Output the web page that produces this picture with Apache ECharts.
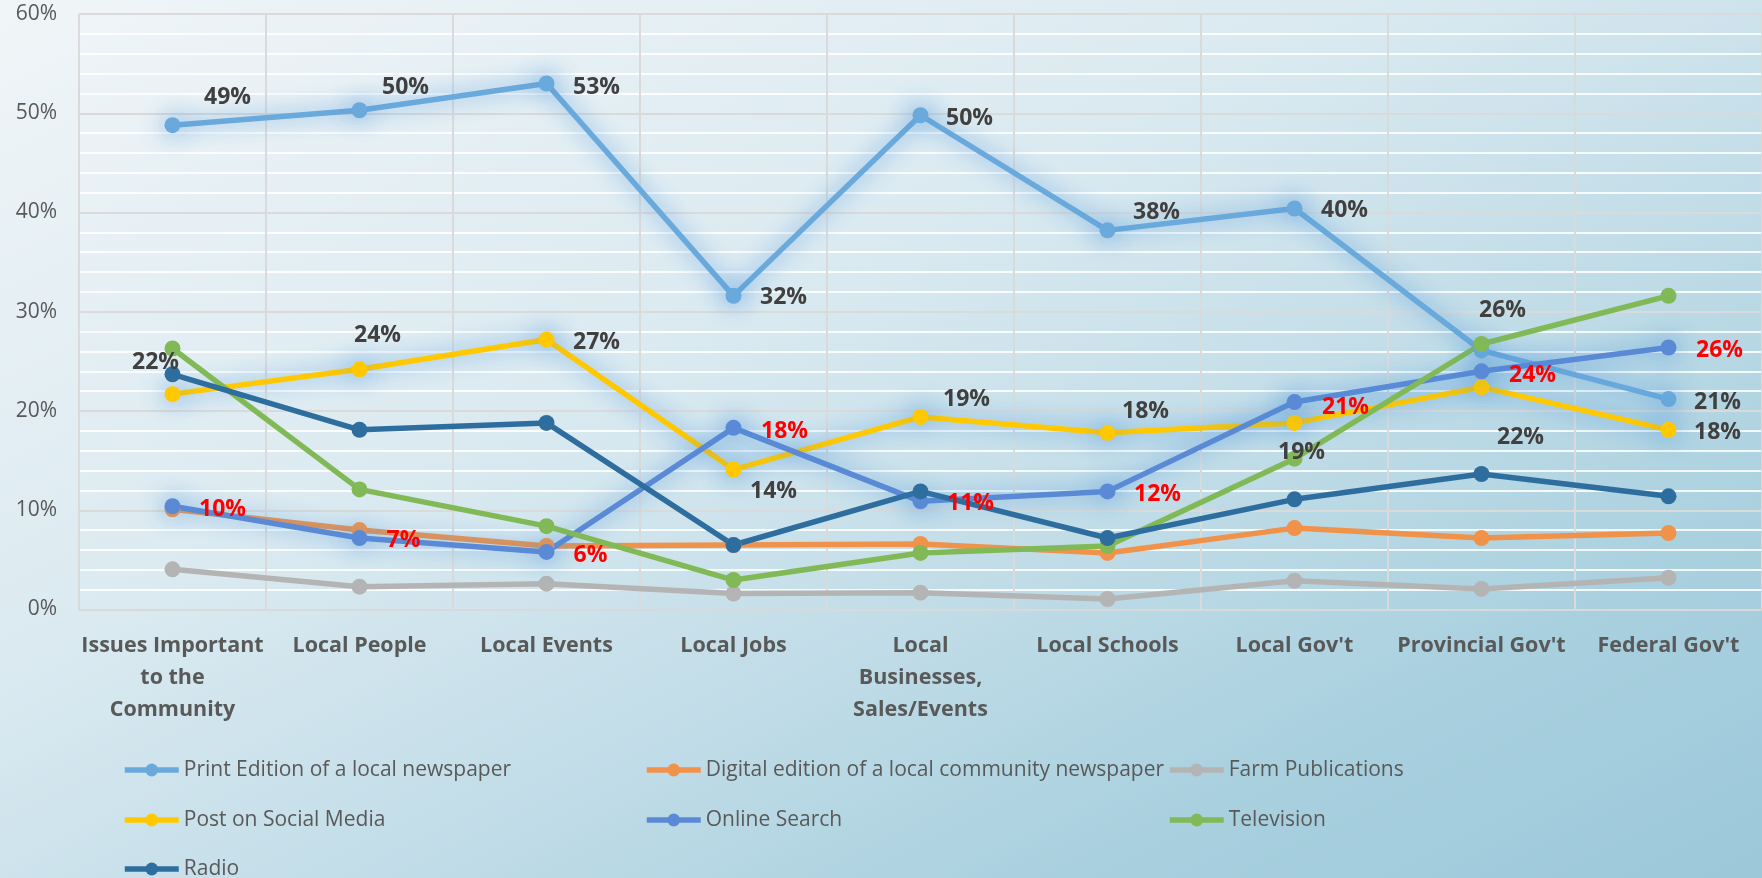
<!DOCTYPE html>
<html>
<head>
<meta charset="utf-8">
<title>Where people look for local information</title>
<script src="https://cdn.jsdelivr.net/npm/echarts@6/dist/echarts.min.js"></script>
<style>
  html, body { margin: 0; padding: 0; }
  #chart {
    width: 1762px; height: 878px;
    background: linear-gradient(to bottom right, #f0f5f7 0%, #dbeaf1 38%, #c2dde8 60%, #a9d0df 80%, #9cc8da 100%);
  }
</style>
</head>
<body>
<div id="chart"></div>
<script>
// Topics asked about
const categories = [
  'Issues Important\nto the\nCommunity',
  'Local People',
  'Local Events',
  'Local Jobs',
  'Local\nBusinesses,\nSales/Events',
  'Local Schools',
  "Local Gov't",
  "Provincial Gov't",
  "Federal Gov't"
];

// Share of respondents (%) using each source, per topic
const printEdition   = [48.8, 50.3, 53.0, 31.6, 49.8, 38.2, 40.4, 26.1, 21.2];
const digitalEdition = [10.1, 8.0, 6.4, 6.5, 6.6, 5.7, 8.2, 7.2, 7.7];
const farmPubs       = [4.05, 2.3, 2.6, 1.6, 1.7, 1.06, 2.9, 2.07, 3.2];
const socialMedia    = [21.7, 24.2, 27.2, 14.1, 19.4, 17.8, 18.8, 22.4, 18.1];
const onlineSearch   = [10.4, 7.2, 5.8, 18.3, 10.9, 11.9, 20.9, 24.0, 26.4];
const television     = [26.3, 12.1, 8.4, 2.97, 5.7, 6.4, 15.2, 26.75, 31.6];
const radio          = [23.7, 18.1, 18.8, 6.5, 11.9, 7.2, 11.1, 13.65, 11.4];

// Y axis ticks (%)
const yTicks = { min: 0, max: 60, step: 10 };

// Label placement (pixel offset from the point) for the labelled series
const printLabelOffsets  = [[55,-28],[46,-23],[50,4],[50,2],[49,3],[49,-18],[50,2],[21,-40],[49,3]];
const socialLabelOffsets = [[-17,-32],[18,-34],[50,3],[40,22],[46,-18],[38,-21],[7,30],[39,50],[49,3]];
const onlineLabelOffsets = [[50,3],[44,2],[44,4],[51,4],[50,2],[50,3],[51,5],[51,4],[51,3]];

const FONT = '"Open Sans", "Noto Sans", sans-serif';
const AXIS_GREY = '#595959';
const GLOW = 'rgba(78,150,218,0.9)';

function pct(v) { return Math.round(v) + '%'; }

function labelled(values, offsets, color) {
  return values.map((v, i) => ({
    value: v,
    label: {
      show: true,
      position: 'inside',
      offset: offsets[i],
      formatter: p => pct(p.value),
      color: color,
      fontFamily: FONT,
      fontWeight: 'bold',
      fontSize: 23
    }
  }));
}

function lineSeries(name, data, color, glow) {
  const s = {
    name: name,
    type: 'line',
    data: data,
    symbol: 'circle',
    symbolSize: 16,
    lineStyle: { width: 5.5, color: color },
    itemStyle: { color: color },
    emphasis: { disabled: true },
    animation: false
  };
  if (glow) {
    s.lineStyle.shadowBlur = 22;
    s.lineStyle.shadowColor = GLOW;
    s.itemStyle.shadowBlur = 26;
    s.itemStyle.shadowColor = GLOW;
  }
  return s;
}

// One legend entry per cell of a 3-column grid
const legendColumns = [122, 644, 1167];
const legendRows = [759, 809, 858];
const legendCells = [
  ['Print Edition of a local newspaper', 0, 0],
  ['Digital edition of a local community newspaper', 1, 0],
  ['Farm Publications', 2, 0],
  ['Post on Social Media', 0, 1],
  ['Online Search', 1, 1],
  ['Television', 2, 1],
  ['Radio', 0, 2]
];

function legendCell(cell) {
  return {
    data: [cell[0]],
    left: legendColumns[cell[1]],
    top: legendRows[cell[2]],
    padding: 0,
    itemWidth: 54,
    itemHeight: 16,
    selectedMode: false,
    lineStyle: { width: 5.5 },
    itemStyle: { shadowBlur: 0 },
    textStyle: { color: AXIS_GREY, fontFamily: FONT, fontSize: 21, lineHeight: 22 }
  };
}

const chart = echarts.init(document.getElementById('chart'), null, { renderer: 'canvas' });

chart.setOption({
  backgroundColor: 'transparent',
  animation: false,
  grid: { left: 79, top: 14, width: 1686, height: 595.5, containLabel: false },
  xAxis: {
    type: 'category',
    data: categories,
    boundaryGap: true,
    axisLine: { show: true, lineStyle: { color: '#d9d9d9', width: 2 } },
    axisTick: { show: false },
    splitLine: { show: true, interval: 0, lineStyle: { color: '#dadada', width: 2 } },
    axisLabel: {
      interval: 0,
      margin: 20,
      color: AXIS_GREY,
      fontFamily: FONT,
      fontWeight: 'bold',
      fontSize: 21.5,
      lineHeight: 32
    }
  },
  yAxis: {
    type: 'value',
    min: yTicks.min,
    max: yTicks.max,
    interval: yTicks.step,
    axisLine: { show: false },
    axisTick: { show: false },
    axisLabel: {
      margin: 22,
      color: AXIS_GREY,
      fontFamily: FONT,
      fontSize: 21,
      formatter: v => v + '%'
    },
    minorTick: { show: false, splitNumber: 5 },
    minorSplitLine: { show: true, lineStyle: { color: '#ffffff', width: 2, opacity: 0.85 } },
    splitLine: { show: true, lineStyle: { color: '#dadada', width: 2 } }
  },
  legend: legendCells.map(legendCell),
  series: [
    lineSeries('Print Edition of a local newspaper', labelled(printEdition, printLabelOffsets, '#404040'), '#69a9dc', true),
    lineSeries('Digital edition of a local community newspaper', digitalEdition, '#f0924a', false),
    lineSeries('Farm Publications', farmPubs, '#b4b4b4', false),
    lineSeries('Post on Social Media', labelled(socialMedia, socialLabelOffsets, '#404040'), '#ffc800', true),
    lineSeries('Online Search', labelled(onlineSearch, onlineLabelOffsets, '#ff0000'), '#5a8ad5', true),
    lineSeries('Television', television, '#82b957', false),
    lineSeries('Radio', radio, '#2e6e9e', false)
  ]
});
</script>
</body>
</html>
